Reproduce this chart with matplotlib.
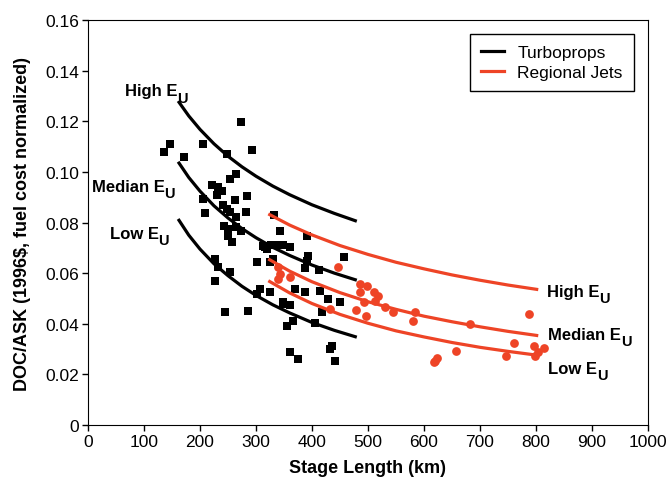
import matplotlib
matplotlib.use('Agg')
import matplotlib.pyplot as plt
from matplotlib.lines import Line2D

plt.rcParams['font.family'] = ['Liberation Sans', 'DejaVu Sans']

RED = '#EE4426'

# turboprop data points (stage length km, DOC/ASK)
tp_x = [273, 146, 136, 206, 172, 249, 293, 265, 254, 221, 232, 240, 230, 284, 262,
        206, 209, 241, 248, 254, 282, 265, 242, 250, 265, 274, 257, 250, 313, 343,
        337, 348, 227, 232, 254, 227, 301, 331, 307, 325, 348, 245, 286,
        332, 391, 316, 327, 361, 319, 393, 391, 457, 325, 388, 413, 370, 388, 414,
        429, 450, 349, 361, 417, 366, 355, 405, 435, 432, 361, 375, 441, 301]
tp_y = [0.1196, 0.111, 0.1077, 0.111, 0.106, 0.107, 0.1087, 0.0992, 0.097, 0.0948,
        0.094, 0.0925, 0.091, 0.0906, 0.089, 0.0893, 0.0836, 0.0869, 0.0853, 0.0842,
        0.084, 0.082, 0.0788, 0.0774, 0.0781, 0.0768, 0.0722, 0.0748, 0.0709, 0.0768,
        0.071, 0.071, 0.0656, 0.0624, 0.0604, 0.057, 0.0643, 0.0656, 0.0537, 0.0525,
        0.0486, 0.0446, 0.0452,
        0.083, 0.0746, 0.0705, 0.071, 0.0702, 0.0695, 0.0668, 0.0648, 0.0665, 0.0644,
        0.062, 0.0614, 0.0537, 0.0525, 0.053, 0.0498, 0.0487, 0.0478, 0.0474, 0.0445,
        0.0412, 0.0392, 0.0405, 0.0313, 0.030, 0.0287, 0.0261, 0.0254, 0.0518]

# regional jet data points
rj_x = [446, 339, 343, 339, 361, 486, 498, 486, 510, 518, 512, 492, 479, 496, 432,
        530, 545, 584, 581, 683, 788, 761, 746, 657, 617, 624, 620, 797, 815, 798, 804]
rj_y = [0.0625, 0.0624, 0.0597, 0.0577, 0.0585, 0.0557, 0.055, 0.0524, 0.0524, 0.0508,
        0.049, 0.0485, 0.0455, 0.043, 0.0458, 0.0466, 0.0445, 0.0448, 0.0412, 0.040,
        0.0439, 0.0324, 0.0274, 0.0291, 0.0248, 0.0263, 0.0254, 0.0313, 0.0306, 0.0274,
        0.0288]

# E_U curves
tp_curve_x = [161, 180, 200, 225, 250, 275, 300, 330, 360, 400, 440, 480]
tp_high = [0.128, 0.1221, 0.1168, 0.1111, 0.1062, 0.1020, 0.0983, 0.0944, 0.0910,
           0.0870, 0.0836, 0.0805]
tp_median = [0.104, 0.0978, 0.0924, 0.0866, 0.0818, 0.0776, 0.0740, 0.0702, 0.0670,
             0.0632, 0.0600, 0.0572]
tp_low = [0.0814, 0.0750, 0.0695, 0.0637, 0.0590, 0.0548, 0.0512, 0.0475, 0.0443,
          0.0405, 0.0374, 0.0347]

rj_curve_x = [322, 360, 400, 450, 500, 550, 600, 650, 700, 750, 804]
rj_high = [0.0834, 0.0790, 0.0751, 0.0709, 0.0674, 0.0643, 0.0617, 0.0593, 0.0572,
           0.0553, 0.0535]
rj_median = [0.0656, 0.0608, 0.0566, 0.0523, 0.0487, 0.0457, 0.0430, 0.0408, 0.0388,
             0.0370, 0.0353]
rj_low_x = [322, 360, 400, 450, 500, 550, 600, 650, 700, 750, 798]
rj_low = [0.0570, 0.0522, 0.0480, 0.0437, 0.0402, 0.0372, 0.0348, 0.0326, 0.0307,
          0.0291, 0.0277]

fig = plt.figure(figsize=(6.7, 4.81), dpi=100)
ax = fig.add_axes([0.1313, 0.1143, 0.8359, 0.842])

ax.plot(tp_x, tp_y, 's', color='black', ms=6.3, mew=0, zorder=3)
ax.plot(rj_x, rj_y, 'o', color=RED, ms=6.3, mew=0, zorder=3)

for c in (tp_high, tp_median, tp_low):
    ax.plot(tp_curve_x, c, color='black', lw=2.3, zorder=4, solid_capstyle='butt')
ax.plot(rj_curve_x, rj_high, color=RED, lw=2.3, zorder=4, solid_capstyle='butt')
ax.plot(rj_curve_x, rj_median, color=RED, lw=2.3, zorder=4, solid_capstyle='butt')
ax.plot(rj_low_x, rj_low, color=RED, lw=2.3, zorder=4, solid_capstyle='butt')


def eu_label(x, y, word):
    # "E" with a large bold subscript "U", as in the original figure
    t = ax.text(x, y, word + ' E', fontsize=12, fontweight='bold', va='baseline', ha='left')
    ax.annotate('U', xy=(1, 0), xycoords=t, xytext=(-0.3, -4.6), textcoords='offset points',
                fontsize=10.5, fontweight='bold', va='bottom', ha='left')


eu_label(66, 0.1303, 'High')
eu_label(7, 0.0925, 'Median')
eu_label(39, 0.0740, 'Low')
eu_label(819, 0.0510, 'High')
eu_label(822, 0.0340, 'Median')
eu_label(822, 0.0207, 'Low')

ax.set_xlim(0, 1000)
ax.set_ylim(0, 0.16)
ax.set_xticks(range(0, 1001, 100))
ax.set_yticks([0, 0.02, 0.04, 0.06, 0.08, 0.10, 0.12, 0.14, 0.16])
ax.set_yticklabels(['0', '0.02', '0.04', '0.06', '0.08', '0.10', '0.12', '0.14', '0.16'])
ax.tick_params(direction='out', length=4, width=1, labelsize=12.5, top=False, right=False,
               pad=2.5)
ax.set_xlabel('Stage Length (km)', fontsize=13, fontweight='bold', labelpad=7)
ax.set_ylabel('DOC/ASK (1996\\$, fuel cost normalized)', fontsize=13, fontweight='bold',
              labelpad=10)

handles = [Line2D([], [], color='black', lw=2.3), Line2D([], [], color=RED, lw=2.3)]
leg = ax.legend(handles, ['Turboprops', 'Regional Jets'], loc='upper right',
                fontsize=12.5, fancybox=False, edgecolor='black', framealpha=1,
                handlelength=1.3, handletextpad=0.8, borderaxespad=0.8,
                labelspacing=0.25, borderpad=0.65)
leg.get_frame().set_linewidth(1)

fig.savefig('out.png', dpi=100)
